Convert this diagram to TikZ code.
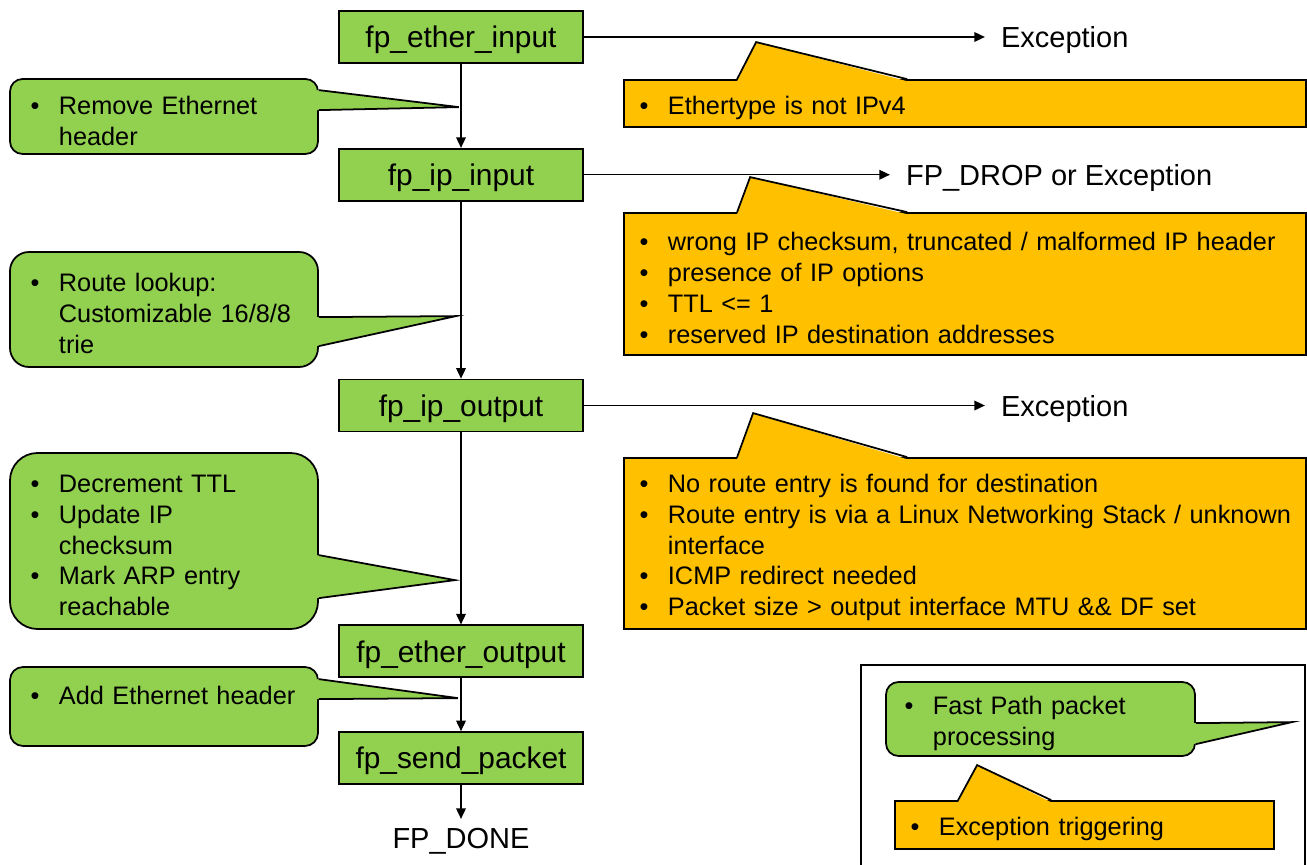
\documentclass[tikz,border=0pt]{standalone}
\usepackage{fontspec}
\setmainfont{Liberation Sans}
\usepackage{xcolor}
\usetikzlibrary{arrows.meta,positioning}

\definecolor{fpgreen}{HTML}{92D050}
\definecolor{fporange}{HTML}{FFC000}

\newcommand{\itm}{\makebox[16.2pt][l]{\textbullet}}
\newcommand{\cnt}{\hspace*{16.2pt}}

\begin{document}
\begin{tikzpicture}[
    node distance=1.68cm,
    fpbox/.style={draw, fill=fpgreen, line width=1pt, minimum width=4.88cm, minimum height=1.04cm, inner sep=0pt,
                  text depth=0pt, font=\fontsize{17}{20}\selectfont},
    outlbl/.style={inner xsep=9pt, inner ysep=3pt, text depth=0pt, font=\fontsize{16.5}{20}\selectfont},
    note/.style={draw, line width=1pt, align=left, inner ysep=0pt, font=\fontsize{14.4}{17.6}\selectfont,
                 execute at begin node={\rule{0pt}{15pt}}},
    greennote/.style={note, fill=fpgreen, inner xsep=0.41cm, text width=5.34cm},
    orangenote/.style={note, fill=fporange, inner xsep=0.31cm, text width=13.02cm},
    arrow/.style={-{Triangle[length=6pt,width=5.5pt]}, line width=0.8pt}
]
    \useasboundingbox (0,0) rectangle (26.14,-17.3);

    % Fast path functions
    \node[fpbox] at (9.22,-0.74) (ethin) {fp\_ether\_input};
    \node[fpbox, below=1.68cm of ethin] (ipin) {fp\_ip\_input};
    \node[fpbox, below=3.54cm of ipin] (ipout) {fp\_ip\_output};
    \node[fpbox, below=3.84cm of ipout] (ethout) {fp\_ether\_output};
    \node[fpbox, below=1.06cm of ethout] (send) {fp\_send\_packet};
    \node[outlbl, below=0.75cm of send] (done) {FP\_DONE};

    % Exits
    \node[outlbl, right=8.02cm of ethin] (exca) {Exception};
    \node[outlbl, right=6.12cm of ipin] (drop) {FP\_DROP or Exception};
    \node[outlbl, right=8.02cm of ipout] (excb) {Exception};

    \draw[arrow] (ethin) -- (ipin);
    \draw[arrow] (ipin) -- (ipout);
    \draw[arrow] (ipout) -- (ethout);
    \draw[arrow] (ethout) -- (send);
    \draw[arrow, shorten >=2pt] (send) -- (done);
    \draw[arrow] (ethin) -- (exca);
    \draw[arrow] (ipin) -- (drop);
    \draw[arrow] (ipout) -- (excb);

    % Processing notes
    \node[greennote, rounded corners=0.25cm, minimum height=1.5cm] at (3.28,-2.33) (ga)
        {\itm Remove Ethernet\\ \cnt header};
    \node[greennote, rounded corners=0.38cm, minimum height=2.3cm] at (3.28,-6.19) (gb)
        {\itm Route lookup:\\ \cnt Customizable 16/8/8\\ \cnt trie};
    \node[greennote, rounded corners=0.55cm, minimum height=3.52cm] at (3.28,-10.82) (gc)
        {\itm Decrement TTL\\ \itm Update IP\\ \cnt checksum\\ \itm Mark ARP entry\\ \cnt reachable};
    \node[greennote, rounded corners=0.26cm, minimum height=1.58cm] at (3.28,-14.13) (gd)
        {\itm Add Ethernet header\\ ~};

    % Exception notes
    \node[orangenote, minimum height=0.94cm] at (19.3,-2.07) (oa)
        {\itm Ethertype is not IPv4};
    \node[orangenote, minimum height=2.84cm] at (19.3,-5.68) (ob)
        {\itm wrong IP checksum, truncated / malformed IP header\\
         \itm presence of IP options\\
         \itm TTL <= 1\\
         \itm reserved IP destination addresses};
    \node[orangenote, minimum height=3.42cm] at (19.3,-10.87) (oc)
        {\itm No route entry is found for destination\\
         \itm \mbox{Route entry is via a Linux Networking Stack / unknown}\\ \cnt interface\\
         \itm ICMP redirect needed\\
         \itm Packet size > output interface MTU \&\& DF set};

    % Legend
    \draw[line width=0.6pt] (17.22,-17.6) |- (26.1,-13.3) -- (26.1,-17.6);
    \node[greennote, rounded corners=0.25cm, inner xsep=0.37cm, text width=5.44cm, minimum height=1.48cm] at (20.81,-14.38) (lg)
        {\itm Fast Path packet\\ \cnt processing};
    \node[orangenote, text width=6.96cm, minimum height=0.96cm] at (21.69,-16.5) (lo)
        {\itm Exception triggering};

    % Callout pointers, green ones on the east side
    \foreach \n/\a/\b/\tx/\ty in {ga/0.24/0.64/2.8/0.58, gb/1.32/1.9/2.74/1.3,
                                  gc/2.06/2.92/2.72/2.56, gd/0.26/0.66/2.78/0.64,
                                  lg/0.84/1.26/1.92/0.82} {
        \fill[fpgreen] ([xshift=-1.2pt,yshift=-\a cm]\n.north east) -- ([xshift=\tx cm,yshift=-\ty cm]\n.north east)
            -- ([xshift=-1.2pt,yshift=-\b cm]\n.north east) -- cycle;
        \draw[line width=1pt] ([yshift=-\a cm]\n.north east) -- ([xshift=\tx cm,yshift=-\ty cm]\n.north east)
            -- ([yshift=-\b cm]\n.north east);
    }
    % orange ones on the north side
    \foreach \n/\a/\b/\tx/\ty in {oa/2.28/5.68/2.66/0.74, ob/2.28/5.68/2.54/0.7,
                                  oc/2.28/5.68/2.6/0.88, lo/1.28/3.14/1.66/0.7} {
        \fill[fporange] ([xshift=\a cm,yshift=-1.2pt]\n.north west) -- ([xshift=\tx cm,yshift=\ty cm]\n.north west)
            -- ([xshift=\b cm,yshift=-1.2pt]\n.north west) -- cycle;
        \draw[line width=1pt] ([xshift=\a cm]\n.north west) -- ([xshift=\tx cm,yshift=\ty cm]\n.north west)
            -- ([xshift=\b cm]\n.north west);
    }
\end{tikzpicture}
\end{document}
